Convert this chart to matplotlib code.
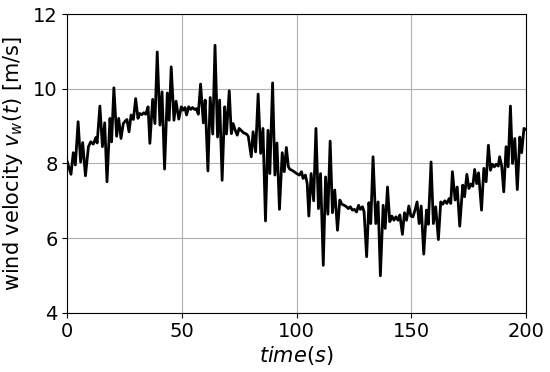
import matplotlib
matplotlib.use('Agg')
import matplotlib.pyplot as plt

# ###
# Data
# ###
TIME = [0, 1.6, 2.6, 3.5, 4.7, 5.8, 6.7, 7.9, 9.2, 10.2, 11.3, 12.5, 13.0, 14.2, 15.3, 16.3, 17.3, 18.6, 19.3, 20.3,
        21.5, 22.4, 23.4, 24.4, 25.3, 26.0, 26.9, 27.8, 28.8, 29.8, 30.8, 31.6, 32.5, 33.3, 34.2, 35.2, 36.0, 37.2, 38.2, 39.2,
        40.4, 41.3, 42.4, 43.6, 44.4, 45.3, 46.5, 47.4, 48.6, 49.7, 50.5, 51.3, 52.0, 52.9, 53.8, 54.6, 55.5, 56.3, 57.1, 58.1,
        59.3, 60.1, 61.3, 62.3, 63.4, 64.4, 65.5, 66.4, 67.5, 68.6, 69.4, 70.6, 71.5, 72.3, 73.2, 74.1, 74.9, 75.9, 76.9, 78.1,
        78.9, 80.2, 81.0, 82.1, 83.2, 84.3, 85.3, 86.4, 87.5, 88.3, 89.5, 90.5, 91.4, 92.5, 93.7, 94.6, 95.5, 96.4, 97.1, 97.9,
        98.9, 100.0, 101.2, 102.1, 102.8, 103.8, 104.6, 105.3, 106.3, 107.4, 108.4, 109.5, 110.4, 111.6, 112.6, 113.6, 114.6, 115.6, 116.6, 117.8,
        118.8, 119.7, 120.7, 121.7, 122.5, 123.4, 124.3, 125.2, 126.1, 127.0, 127.8, 128.7, 129.4, 130.5, 131.5, 132.3, 133.3, 134.5, 135.5, 136.5,
        137.7, 138.6, 139.6, 140.6, 141.5, 142.4, 143.3, 144.2, 145.0, 146.1, 147.0, 147.9, 148.9, 149.8, 150.7, 151.6, 152.5, 153.4, 154.3, 155.4,
        156.6, 157.4, 158.6, 159.6, 160.6, 161.8, 162.8, 163.7, 164.6, 165.5, 166.5, 167.2, 167.9, 169.1, 170.0, 171.1, 172.4, 173.2, 174.2, 175.1,
        176.0, 176.8, 177.6, 178.5, 179.3, 180.6, 181.6, 182.6, 183.6, 184.5, 185.3, 186.2, 187.0, 187.9, 188.5, 189.4, 190.3, 191.3, 192.2, 193.2,
        194.1, 195.1, 196.2, 197.3, 198.1, 199.1, 200.0]
WIND = [8.04, 7.71, 8.29, 7.96, 9.12, 8.04, 8.56, 7.67, 8.45, 8.58, 8.52, 8.70, 8.55, 9.54, 8.45, 9.09, 7.51, 9.21, 8.58, 10.03,
        8.73, 9.21, 8.67, 9.07, 9.14, 9.18, 8.85, 9.30, 9.18, 9.74, 9.21, 9.34, 9.31, 9.36, 9.32, 9.52, 8.54, 9.72, 9.07, 10.99,
        9.03, 9.92, 7.85, 9.89, 9.16, 10.59, 9.16, 9.67, 9.19, 9.52, 9.43, 9.50, 9.30, 9.52, 9.45, 9.50, 9.45, 9.47, 9.32, 10.13,
        9.09, 9.70, 7.80, 9.77, 8.79, 11.17, 8.71, 9.70, 7.55, 9.52, 8.79, 9.95, 8.80, 9.07, 8.89, 8.76, 8.94, 8.88, 8.82, 8.79,
        8.73, 8.18, 8.85, 8.31, 9.86, 8.27, 8.94, 6.46, 8.89, 7.73, 10.16, 7.69, 8.55, 6.77, 8.29, 7.78, 8.43, 7.91, 7.84, 7.82,
        7.78, 7.73, 7.69, 7.78, 7.60, 7.69, 7.46, 6.59, 7.73, 7.00, 8.94, 6.79, 7.73, 5.27, 7.64, 6.64, 8.60, 6.68, 7.29, 6.21,
        7.02, 6.91, 6.88, 6.84, 6.79, 6.84, 6.75, 6.77, 6.70, 6.88, 6.77, 6.84, 6.70, 5.50, 6.95, 6.39, 8.18, 6.39, 6.97, 4.99,
        6.88, 6.26, 7.37, 6.44, 6.59, 6.48, 6.57, 6.48, 6.62, 6.10, 6.68, 6.48, 6.86, 6.59, 6.57, 6.75, 6.97, 6.39, 6.86, 5.57,
        6.75, 6.37, 8.04, 6.39, 6.84, 5.96, 6.97, 6.91, 7.00, 6.93, 7.06, 6.93, 7.78, 7.02, 7.37, 6.32, 7.42, 7.11, 7.71, 7.33,
        7.45, 7.39, 7.84, 7.46, 7.75, 6.75, 7.87, 7.51, 8.49, 7.82, 7.98, 7.91, 7.98, 7.93, 8.18, 7.93, 7.24, 8.45, 7.91, 9.54,
        8.00, 8.67, 7.30, 8.71, 8.29, 8.94, 8.91]

X_TICKS = [0, 50, 100, 150, 200]
Y_TICKS = [4, 6, 8, 10, 12]

# ###
# Plot
# ###
fig = plt.figure(figsize=(5.5, 3.72), dpi=100, facecolor='w')
ax = fig.add_axes([0.1224, 0.1594, 0.834, 0.8022])

ax.plot(TIME, WIND, color='k', linewidth=2)

ax.set_xlim(0, 200)
ax.set_ylim(4, 12)
ax.set_xticks(X_TICKS)
ax.set_yticks(Y_TICKS)
ax.grid(True, color='#b0b0b0', linewidth=0.8)
ax.set_axisbelow(True)
ax.tick_params(axis='both', which='major', labelsize=14)

ax.set_xlabel('$time(s)$', fontsize=15, labelpad=2)
ax.set_ylabel('wind velocity $v_w(t)$ [m/s]', fontsize=15, labelpad=6)

fig.savefig('out.png', dpi=100)
